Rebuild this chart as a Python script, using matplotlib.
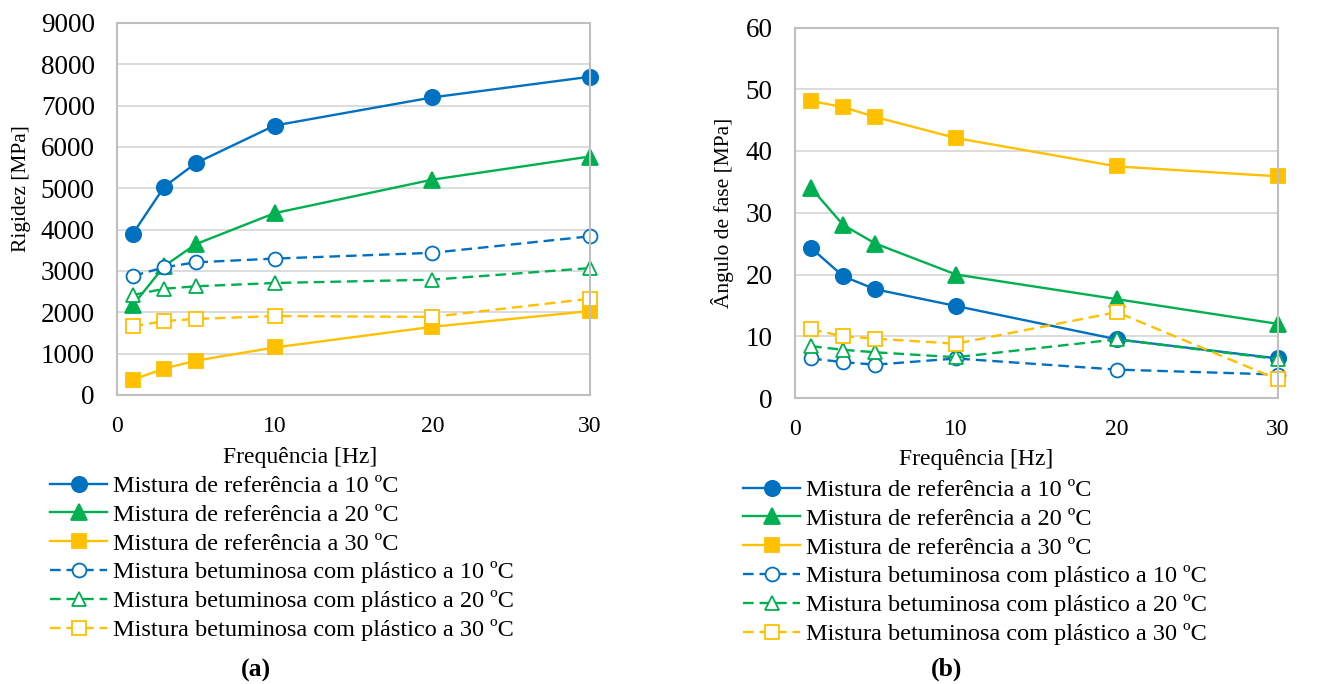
import numpy as np
import matplotlib
matplotlib.use("Agg")
import matplotlib.pyplot as plt

# fonts: Times-like look
plt.rcParams['font.family'] = ['Liberation Serif', 'DejaVu Serif']

# ---------------------------------------------------------------------------
# data
# ---------------------------------------------------------------------------
freq = [1, 3, 5, 10, 20, 30]

labels = [
    "Mistura de referência a 10 ºC",
    "Mistura de referência a 20 ºC",
    "Mistura de referência a 30 ºC",
    "Mistura betuminosa com plástico a 10 ºC",
    "Mistura betuminosa com plástico a 20 ºC",
    "Mistura betuminosa com plástico a 30 ºC",
]

# (a) rigidez [MPa]
rig_ref_10 = [3900, 5040, 5610, 6520, 7200, 7700]
rig_ref_20 = [2170, 3120, 3650, 4400, 5210, 5770]
rig_ref_30 = [370, 640, 830, 1150, 1650, 2030]
rig_pla_10 = [2880, 3090, 3210, 3300, 3440, 3840]
rig_pla_20 = [2420, 2570, 2630, 2710, 2790, 3070]
rig_pla_30 = [1660, 1790, 1840, 1910, 1890, 2330]

# (b) angulo de fase
ang_ref_10 = [24.3, 19.7, 17.6, 14.9, 9.5, 6.4]
ang_ref_20 = [34.0, 28.0, 25.0, 20.0, 16.0, 12.0]
ang_ref_30 = [48.1, 47.1, 45.5, 42.1, 37.5, 35.9]
ang_pla_10 = [6.4, 5.8, 5.4, 6.4, 4.6, 3.8]
ang_pla_20 = [8.4, 7.8, 7.4, 6.6, 9.5, 6.3]
ang_pla_30 = [11.1, 10.0, 9.6, 8.8, 13.9, 3.0]

# ---------------------------------------------------------------------------
# styles
# ---------------------------------------------------------------------------
blue = '#0070C0'
green = '#00B050'
gold = '#FFC000'
colors = [blue, green, gold, blue, green, gold]
markers = ['o', '^', 's', 'o', '^', 's']
filled = [True, True, True, False, False, False]
dash = (0, (4.5, 2.5))

fs_leg = 17.5
fs_lab = 17
fs_xtick = 17
fs_ytick = 19.5
lw = 1.7


def draw(ax, series, ymax, ystep):
    for vals, c, m, f, lab in zip(series, colors, markers, filled, labels):
        ms = 11 if m != 's' else 10
        if not f:
            ms = 10 if m != 's' else 9.5
        ax.plot(freq, vals, color=c, lw=lw,
                linestyle='-' if f else dash,
                marker=m, markersize=ms,
                markerfacecolor=c if f else 'white',
                markeredgecolor=c, markeredgewidth=1.3,
                clip_on=False, label=lab)
    ax.set_xlim(0, 30)
    ax.set_ylim(0, ymax)
    ax.set_xticks([0, 10, 20, 30])
    ax.set_yticks(np.arange(0, ymax + ystep, ystep))
    ax.grid(axis='y', color='#D9D9D9', lw=1.3)
    ax.set_axisbelow(True)
    for s in ax.spines.values():
        s.set_color('#BFBFBF')
        s.set_linewidth(1.5)
    ax.tick_params(axis='both', length=0)
    ax.tick_params(axis='x', labelsize=fs_xtick, pad=15)
    ax.tick_params(axis='y', labelsize=fs_ytick, pad=16)


fig = plt.figure(figsize=(13.27, 6.84), dpi=100)

ax1 = fig.add_axes([117 / 1327, 1 - 395 / 684, 473 / 1327, 372 / 684])
draw(ax1, [rig_ref_10, rig_ref_20, rig_ref_30, rig_pla_10, rig_pla_20, rig_pla_30],
     9000, 1000)

ax2 = fig.add_axes([795 / 1327, 1 - 398 / 684, 483 / 1327, 370.5 / 684])
draw(ax2, [ang_ref_10, ang_ref_20, ang_ref_30, ang_pla_10, ang_pla_20, ang_pla_30],
     60, 10)

# axis titles placed as in the original layout
fig.text(300 / 1327, 1 - 458 / 684, "Frequência [Hz]", fontsize=fs_lab,
         ha='center', va='center')
fig.text(976 / 1327, 1 - 460 / 684, "Frequência [Hz]", fontsize=fs_lab,
         ha='center', va='center')
fig.text(22 / 1327, 1 - 189 / 684, "Rigidez [MPa]", fontsize=15.5,
         rotation=90, ha='center', va='center')
fig.text(722 / 1327, 1 - 213 / 684, "Ângulo de fase [MPa]", fontsize=15.5,
         rotation=90, ha='center', va='center')

# legends
leg_kw = dict(loc='upper left', frameon=False, fontsize=fs_leg, borderpad=0,
              borderaxespad=0, handlelength=2.35, handletextpad=0.25,
              labelspacing=0.28, numpoints=1)
h1, l1 = ax1.get_legend_handles_labels()
fig.legend(h1, l1, bbox_to_anchor=(50 / 1327, 1 - 475 / 684), **leg_kw)
h2, l2 = ax2.get_legend_handles_labels()
fig.legend(h2, l2, bbox_to_anchor=(743 / 1327, 1 - 479 / 684), **leg_kw)

fig.text(256 / 1327, 1 - 670 / 684, "(a)", fontsize=18.5,
         fontweight='bold', ha='center', va='center')
fig.text(947 / 1327, 1 - 669 / 684, "(b)", fontsize=18.5,
         fontweight='bold', ha='center', va='center')

fig.savefig('out.png', dpi=100)
